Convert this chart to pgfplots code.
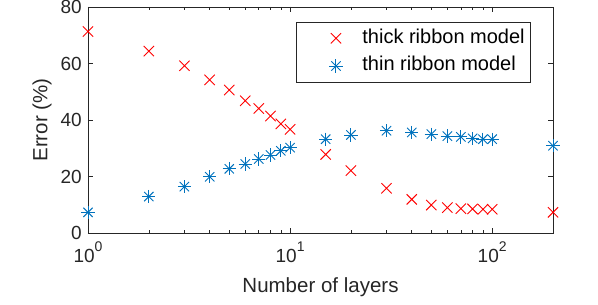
\documentclass[border=0pt]{standalone}
\usepackage{pgfplots}
\pgfplotsset{compat=1.18}
\usepackage{fontspec}
\setmainfont{Liberation Sans}
\definecolor{mred}{rgb}{1,0,0}
\definecolor{mblue}{rgb}{0,0.447,0.741}
\definecolor{axgray}{rgb}{0.15,0.15,0.15}
\pgfdeclareplotmark{mstar}{\pgfuseplotmark{+}\pgfuseplotmark{x}}
\newcommand{\tenpow}[1]{10\raisebox{0.55em}{\fontsize{14}{14}\selectfont #1}}
\begin{document}
\begin{tikzpicture}
\begin{axis}[
  scale only axis,
  width=465pt, height=226pt,
  xmode=log, xmin=1, xmax=200,
  ymin=0, ymax=80,
  xtick={1,10,100},
  xticklabels={\tenpow{0},\tenpow{1},\tenpow{2}},
  ytick={0,20,40,60,80},
  /pgf/number format/assume math mode=true,
  tick align=inside,
  major tick length=5pt, minor tick length=3pt,
  axis line style={axgray, line width=0.6pt},
  every tick/.style={axgray, line width=0.6pt},
  tick label style={font=\fontsize{19}{23}\selectfont, text=axgray},
  yticklabel style={anchor=east, inner sep=0pt, xshift=-6pt},
  xticklabel style={anchor=north, inner sep=0pt, yshift=-9pt},
  xlabel={Number of layers},
  ylabel={Error (\%)},
  label style={font=\fontsize{20.5}{24}\selectfont, text=axgray},
  xlabel style={at={(axis description cs:0.5,-0.239)}, anchor=center},
  ylabel style={at={(axis description cs:-0.099,0.5)}, anchor=center},
  legend style={at={(axis description cs:1,1)}, anchor=north east,
    xshift=-22pt, yshift=-15pt, draw=axgray, line width=0.6pt,
    font=\fontsize{20}{24}\selectfont, inner xsep=6pt, inner ysep=7pt,
    row sep=9.7pt,
    nodes={inner sep=0pt, text height=14pt, text depth=4pt}},
  legend cell align=left,
  legend image code/.code={\path (0pt,0pt) (59pt,0pt); \draw[#1] plot coordinates {(33pt,0pt)};},
]
\addplot[only marks, mark=x, mark size=7.3pt, mred, line width=0.9pt] coordinates {
(1,71.3) (2,64.4) (3,59.2) (4,54.2) (5,50.6) (6,46.8) (7,44.1) (8,41.4) (9,38.6) (10,36.7)
(15,27.8) (20,22.1) (30,15.8) (40,11.9) (50,9.9) (60,9.0) (70,8.6) (80,8.5) (90,8.4) (100,8.4) (200,7.3)
};
\addlegendentry{thick ribbon model}
\addplot[only marks, mark=mstar, mark size=6.6pt, mblue, line width=0.9pt] coordinates {
(1,7.3) (2,12.9) (3,16.4) (4,19.9) (5,22.7) (6,24.4) (7,26.2) (8,27.6) (9,29.1) (10,30.2)
(15,33.2) (20,34.7) (30,36.2) (40,35.6) (50,35.0) (60,34.3) (70,34.0) (80,33.5) (90,33.2) (100,33.2) (200,30.9)
};
\addlegendentry{thin ribbon model}
\end{axis}
\path[use as bounding box] (current axis.south west) ++(-88pt,-72pt) rectangle ([xshift=45pt,yshift=7pt]current axis.north east);
\end{tikzpicture}
\end{document}
